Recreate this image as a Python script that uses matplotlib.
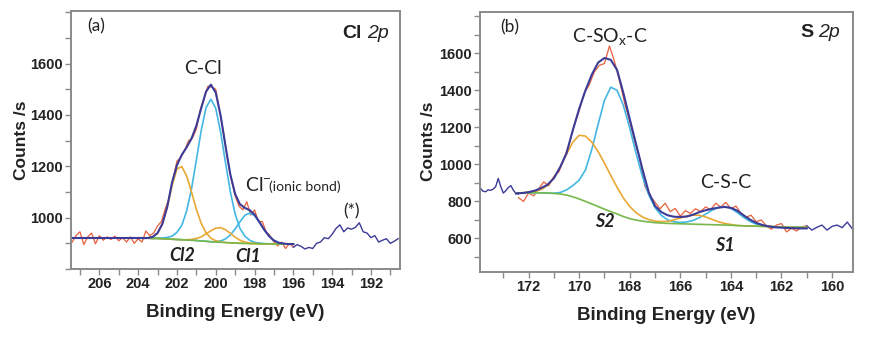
import numpy as np
import matplotlib
matplotlib.use("Agg")
from matplotlib import pyplot as plt
from matplotlib.ticker import MultipleLocator

plt.rcParams['font.family'] = ['Liberation Sans', 'DejaVu Sans']

# ---------------- Cl 2p panel (a) ----------------
# raw counts, 207.4 -> 196.0 eV every 0.2 eV
cl_raw_e = np.round(np.arange(207.4, 195.95, -0.2), 2)
cl_raw = [905, 930, 945, 895, 925, 940, 898, 930, 912, 925,
          915, 928, 910, 922, 905, 925, 900, 918, 905, 948,
          930, 940, 968, 985, 1035, 1075, 1150, 1220, 1235, 1262,
          1300, 1310, 1345, 1420, 1465, 1512, 1508, 1500, 1415, 1335,
          1230, 1150, 1085, 1045, 1030, 1062, 1010, 1030, 985, 985,
          945, 930, 905, 890, 905, 880, 900, 885]

# raw counts outside the fit window, 196.0 -> 190.6 eV
cl_tail_e = np.round(np.arange(196.0, 190.55, -0.2), 2)
cl_tail = [885, 895, 888, 878, 884, 880, 900, 905, 922, 918,
           935, 958, 972, 945, 960, 955, 962, 980, 945, 940,
           922, 930, 905, 912, 918, 900, 908, 918]

# fit window, 203.75 -> 196.0 eV every 0.25 eV
cl_fit_e = np.round(np.arange(203.75, 195.99, -0.25), 2)
cl_bg = [920, 920, 919, 919, 918, 917, 916, 915, 914, 913, 912, 911, 909, 908, 906, 905,
         904, 903, 902, 901, 900, 900, 899, 899, 898, 898, 898, 897, 897, 897, 897, 897]
cl_c_cl = [920, 920, 920, 921, 921, 923, 928, 943, 970, 1026, 1112, 1224, 1339, 1429, 1461, 1426,
           1334, 1216, 1102, 1014, 958, 928, 912, 904, 901, 899, 898, 897, 897, 897, 897, 897]
cl_cl2 = [920, 921, 925, 939, 975, 1041, 1125, 1190, 1199, 1162, 1100, 1033, 978, 941, 920, 910,
          906, 903, 902, 901, 900, 900, 899, 899, 898, 898, 898, 897, 897, 897, 897, 897]
cl_cl2b = [920, 920, 919, 919, 918, 917, 916, 915, 914, 914, 915, 919, 925, 937, 949, 959,
           961, 953, 939, 924, 912, 905, 901, 900, 898, 898, 898, 897, 897, 897, 897, 897]
cl_cl1 = [920, 920, 919, 919, 918, 917, 916, 915, 914, 913, 912, 911, 909, 908, 906, 907,
          909, 917, 932, 956, 984, 1009, 1018, 1008, 982, 953, 928, 911, 902, 899, 897, 897]
cl_env = [920, 921, 925, 940, 976, 1042, 1138, 1204, 1245, 1274, 1308, 1358, 1426, 1491, 1518, 1487,
          1398, 1280, 1169, 1092, 1052, 1038, 1029, 1012, 983, 953, 928, 911, 902, 899, 897, 897]
cl_env_lead_e = [207.4, 203.75]
cl_env_lead = [920, 920]

# ---------------- S 2p panel (b) ----------------
s_head_e = np.round(np.arange(173.9, 172.35, -0.1), 2)
s_head = [870, 855, 852, 862, 860, 866, 880, 924, 880, 845,
          858, 875, 885, 860, 843, 840]

s_raw_e = np.round(np.arange(172.4, 160.95, -0.2), 2)
s_raw = [820, 800, 845, 830, 868, 905, 885, 935, 960, 1030,
         1110, 1205, 1290, 1385, 1430, 1500, 1535, 1545, 1640, 1555,
         1450, 1330, 1230, 1120, 1030, 880, 830, 795, 760, 790,
         745, 762, 720, 750, 735, 760, 745, 770, 755, 790,
         770, 795, 760, 775, 735, 715, 725, 690, 700, 668,
         650, 672, 680, 635, 655, 640, 662, 668]

s_tail_e = np.round(np.arange(161.0, 159.15, -0.2), 2)
s_tail = [668, 645, 660, 672, 645, 665, 672, 658, 688, 652]

s_fit_e = np.round(np.arange(172.5, 160.99, -0.25), 2)
s_bg = [845, 846, 847, 847, 846, 845, 843, 840, 834, 825, 813, 800, 786, 772, 758, 745,
        732, 718, 707, 699, 693, 689, 685, 683, 681, 680, 679, 678, 677, 676, 675, 674,
        673, 672, 671, 669, 668, 667, 666, 665, 664, 663, 662, 661, 660, 660, 659]
s_p32 = [845, 846, 847, 847, 846, 845, 844, 848, 862, 885, 915, 970, 1081, 1216, 1346, 1417,
         1400, 1318, 1196, 1060, 935, 836, 766, 724, 700, 690, 686, 689, 697, 712, 731, 752,
         767, 772, 763, 740, 714, 692, 677, 669, 665, 663, 662, 661, 660, 660, 659]
s_p12 = [845, 847, 849, 854, 864, 886, 926, 985, 1055, 1120, 1157, 1153, 1120, 1069, 1007, 940,
         876, 818, 772, 739, 716, 702, 693, 691, 692, 700, 710, 721, 726, 725, 716, 703,
         690, 681, 675, 670, 668, 667, 666, 665, 664, 663, 662, 661, 660, 660, 659]
s_env = [843, 845, 850, 858, 872, 890, 925, 985, 1060, 1185, 1300, 1400, 1485, 1550, 1575, 1565,
         1510, 1385, 1245, 1110, 975, 850, 775, 742, 725, 717, 716, 718, 728, 742, 752, 760,
         766, 770, 765, 750, 725, 702, 684, 672, 665, 660, 658, 656, 655, 654, 654]

RAW = '#e8603c'
ENV = '#3c3b98'
CYAN = '#43b7e2'
ORANGE = '#e9a834'
GREEN = '#76b84a'
FRAME = '#8a8a8a'
TXT = '#222222'
ANN = 'Lato'

fig = plt.figure(figsize=(8.78, 3.39), dpi=100)
ax1 = fig.add_axes([0.0809, 0.2065, 0.3747, 0.7611])
ax2 = fig.add_axes([0.5467, 0.1985, 0.4252, 0.767])


def style_axes(ax, xlim, ylim, xmaj, ymaj, ypad):
    ax.set_xlim(*xlim)
    ax.set_ylim(*ylim)
    ax.xaxis.set_major_locator(MultipleLocator(xmaj))
    ax.xaxis.set_minor_locator(MultipleLocator(1))
    ax.set_yticks(ymaj)
    ax.yaxis.set_minor_locator(MultipleLocator(100))
    for sp in ax.spines.values():
        sp.set_color(FRAME)
        sp.set_linewidth(1.4)
    ax.tick_params(which='both', direction='out', color=FRAME, width=1.0,
                   top=False, right=False)
    ax.tick_params(which='major', length=4, labelsize=10.5, labelcolor=TXT, pad=2)
    ax.tick_params(which='minor', length=4)
    for lab in ax.get_xticklabels() + ax.get_yticklabels():
        lab.set_fontweight('bold')
    ax.set_xlabel('Binding Energy (eV)', fontsize=13.5, fontweight='bold',
                  color=TXT, labelpad=9)
    ax.set_ylabel('Counts /s', fontsize=12.5, fontweight='bold', color=TXT, labelpad=ypad)


# panel (a)
ax1.plot(cl_raw_e, cl_raw, color=RAW, lw=0.9)
ax1.plot(cl_tail_e, cl_tail, color=ENV, lw=1.0)
ax1.plot(cl_fit_e, cl_c_cl, color=CYAN, lw=1.2)
ax1.plot(cl_fit_e, cl_cl1, color=CYAN, lw=1.2)
ax1.plot(cl_fit_e, cl_cl2, color=ORANGE, lw=1.2)
ax1.plot(cl_fit_e, cl_cl2b, color=ORANGE, lw=1.2)
ax1.plot(cl_fit_e, cl_bg, color=GREEN, lw=1.2)
ax1.plot(cl_env_lead_e, cl_env_lead, color=ENV, lw=1.5)
ax1.plot(cl_fit_e, cl_env, color=ENV, lw=1.5)
style_axes(ax1, (207.46, 190.5), (800, 1805), 2, [1000, 1200, 1400, 1600], 1)

ax1.text(0.05, 0.94, '(a)', transform=ax1.transAxes, fontsize=12.5, color=TXT,
         family=ANN, va='center')
ax1.text(0.884, 0.912, 'Cl', transform=ax1.transAxes, fontsize=14, fontweight='bold',
         color=TXT, ha='right', va='center')
ax1.text(0.90, 0.912, '2p', transform=ax1.transAxes, fontsize=14, style='italic',
         color=TXT, ha='left', va='center')
ax1.text(200.66, 1582, 'C-Cl', fontsize=14, color=TXT, family=ANN, ha='center', va='center')
ax1.text(198.5, 1103, 'Cl$^{\\mathregular{-}}$', fontsize=14, color=TXT, family=ANN,
         ha='left', va='baseline')
ax1.text(197.25, 1103, '(ionic bond)', fontsize=10, color=TXT, family=ANN,
         ha='left', va='baseline')
ax1.text(193.0, 1025, '(*)', fontsize=12.5, color=TXT, family=ANN, ha='center', va='center')
ax1.text(201.75, 853, 'Cl2', fontsize=13, fontweight='bold', style='italic', color=TXT,
         family=ANN, ha='center', va='center')
ax1.text(198.32, 847, 'Cl1', fontsize=13, fontweight='bold', style='italic', color=TXT,
         family=ANN, ha='center', va='center')

# panel (b)
ax2.plot(s_raw_e, s_raw, color=RAW, lw=0.9)
ax2.plot(s_head_e, s_head, color=ENV, lw=1.0)
ax2.plot(s_tail_e, s_tail, color=ENV, lw=1.0)
ax2.plot(s_fit_e, s_p32, color=CYAN, lw=1.2)
ax2.plot(s_fit_e, s_p12, color=ORANGE, lw=1.2)
ax2.plot(s_fit_e, s_bg, color=GREEN, lw=1.2)
ax2.plot(s_fit_e, s_env, color=ENV, lw=1.5)
style_axes(ax2, (173.92, 159.16), (420, 1825), 2, [600, 800, 1000, 1200, 1400, 1600], 2)

ax2.text(0.055, 0.94, '(b)', transform=ax2.transAxes, fontsize=12.5, color=TXT,
         family=ANN, va='center')
ax2.text(0.892, 0.92, 'S', transform=ax2.transAxes, fontsize=14, fontweight='bold',
         color=TXT, ha='right', va='center')
ax2.text(0.905, 0.92, '2p', transform=ax2.transAxes, fontsize=14, style='italic',
         color=TXT, ha='left', va='center')
ax2.text(168.78, 1688, 'C-SO$_{\\mathregular{x}}$-C', fontsize=14, color=TXT, family=ANN,
         ha='center', va='center')
ax2.text(164.2, 904, 'C-S-C', fontsize=14, color=TXT, family=ANN, ha='center', va='center')
ax2.text(168.98, 690, 'S2', fontsize=13, fontweight='bold', style='italic', color=TXT,
         family=ANN, ha='center', va='center')
ax2.text(164.24, 564, 'S1', fontsize=13, fontweight='bold', style='italic', color=TXT,
         family=ANN, ha='center', va='center')

fig.savefig('out.png', dpi=100)
